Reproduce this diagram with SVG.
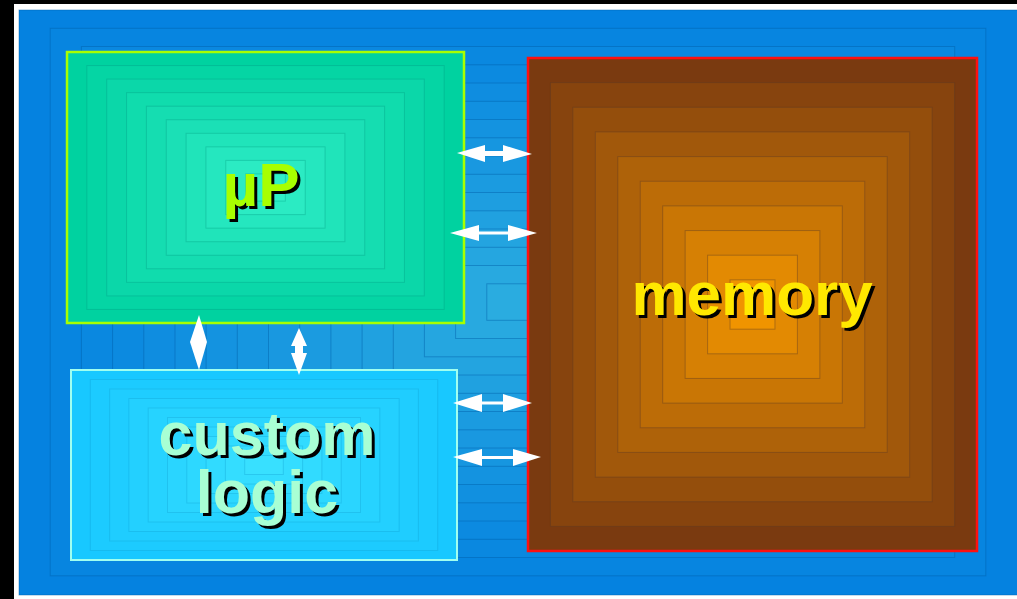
<svg xmlns="http://www.w3.org/2000/svg" width="1017" height="599" viewBox="0 0 1017 599">
<style>
.bg rect{stroke:#0060a8;stroke-opacity:.45;stroke-width:1}
.up rect{stroke:#009a80;stroke-opacity:.35;stroke-width:1}
.cl rect{stroke:#10a0d0;stroke-opacity:.35;stroke-width:1}
.mem rect{stroke:#5a3a28;stroke-opacity:.4;stroke-width:1}
.lbl{font-family:"Liberation Sans",Arial,sans-serif;font-weight:bold;text-anchor:middle}
.sh{fill:#000}
.arr{fill:#fff}
</style>
<rect x="0" y="0" width="1017" height="599" fill="#000"/>
<rect x="14" y="4" width="1010" height="600" fill="#fff"/>
<g class="bg">
<rect x="19" y="10" width="1003" height="585" fill="#0582e0"/>
<rect x="50.2" y="28.3" width="935.6" height="547.5" fill="#0785e0"/>
<rect x="81.4" y="46.5" width="873.3" height="511" fill="#0a88e0"/>
<rect x="112.6" y="64.8" width="810.9" height="474.5" fill="#0c8ae0"/>
<rect x="143.8" y="83" width="748.5" height="438" fill="#0f8de0"/>
<rect x="175" y="101.3" width="686.1" height="401.5" fill="#1190e0"/>
<rect x="206.1" y="119.5" width="623.8" height="365" fill="#1493e0"/>
<rect x="237.3" y="137.8" width="561.4" height="328.5" fill="#1696e0"/>
<rect x="268.5" y="156" width="499" height="292" fill="#1998e0"/>
<rect x="299.7" y="174.3" width="436.6" height="255.5" fill="#1b9be0"/>
<rect x="330.9" y="192.5" width="374.3" height="219" fill="#1e9ee0"/>
<rect x="362.1" y="210.8" width="311.9" height="182.5" fill="#20a1e0"/>
<rect x="393.3" y="229" width="249.5" height="146" fill="#23a4e0"/>
<rect x="424.4" y="247.3" width="187.1" height="109.5" fill="#25a6e0"/>
<rect x="455.6" y="265.5" width="124.8" height="73" fill="#28a9e0"/>
<rect x="486.8" y="283.8" width="62.4" height="36.5" fill="#2aace0"/>
</g>
<g id="up">
<g class="up">
<rect x="67" y="52" width="397" height="271" fill="#00d2a0"/>
<rect x="86.85" y="65.55" width="357.3" height="243.9" fill="#05d5a4"/>
<rect x="106.7" y="79.1" width="317.6" height="216.8" fill="#0bd7a9"/>
<rect x="126.55" y="92.65" width="277.9" height="189.7" fill="#10dcad"/>
<rect x="146.4" y="106.2" width="238.2" height="162.6" fill="#15ddb1"/>
<rect x="166.25" y="119.75" width="198.5" height="135.5" fill="#1be0b6"/>
<rect x="186.1" y="133.3" width="158.8" height="108.4" fill="#20e4ba"/>
<rect x="205.95" y="146.85" width="119.1" height="81.3" fill="#25e7bf"/>
<rect x="225.8" y="160.4" width="79.4" height="54.2" fill="#2bebc3"/>
<rect x="245.65" y="173.95" width="39.7" height="27.1" fill="#30f0c8"/>
</g>
<rect x="67" y="52" width="397" height="271" fill="none" stroke="#a8ff00" stroke-width="2.5"/>
<text class="lbl sh" x="264" y="209" font-size="62">µP</text>
<text class="lbl" x="261" y="206" font-size="62" fill="#a8ff00">µP</text>
</g>
<g id="custom-logic">
<g class="cl">
<rect x="71" y="370" width="386" height="190" fill="#18c8ff"/>
<rect x="90.3" y="379.5" width="347.4" height="171" fill="#1ccbff"/>
<rect x="109.6" y="389" width="308.8" height="152" fill="#1fcdff"/>
<rect x="128.9" y="398.5" width="270.2" height="133" fill="#23d0ff"/>
<rect x="148.2" y="408" width="231.6" height="114" fill="#26d3ff"/>
<rect x="167.5" y="417.5" width="193" height="95" fill="#2ad5ff"/>
<rect x="186.8" y="427" width="154.4" height="76" fill="#2dd8ff"/>
<rect x="206.1" y="436.5" width="115.8" height="57" fill="#31dbff"/>
<rect x="225.4" y="446" width="77.2" height="38" fill="#34ddff"/>
<rect x="244.7" y="455.5" width="38.6" height="19" fill="#38e0ff"/>
</g>
<rect x="71" y="370" width="386" height="190" fill="none" stroke="#a0fff0" stroke-width="2"/>
<text class="lbl sh" x="270" y="458" font-size="61">custom</text>
<text class="lbl" x="267" y="455" font-size="61" fill="#a8ffd4">custom</text>
<text class="lbl sh" x="270" y="516" font-size="61">logic</text>
<text class="lbl" x="267" y="513" font-size="61" fill="#a8ffd4">logic</text>
</g>
<g id="memory">
<g class="mem">
<rect x="528" y="58" width="449" height="493" fill="#7a3a10"/>
<rect x="550.45" y="82.65" width="404.1" height="443.7" fill="#87440e"/>
<rect x="572.9" y="107.3" width="359.2" height="394.4" fill="#944e0c"/>
<rect x="595.35" y="131.95" width="314.3" height="345.1" fill="#a1580b"/>
<rect x="617.8" y="156.6" width="269.4" height="295.8" fill="#ae6209"/>
<rect x="640.25" y="181.25" width="224.5" height="246.5" fill="#bc6c07"/>
<rect x="662.7" y="205.9" width="179.6" height="197.2" fill="#c97605"/>
<rect x="685.15" y="230.55" width="134.7" height="147.9" fill="#d68004"/>
<rect x="707.6" y="255.2" width="89.8" height="98.6" fill="#e38a02"/>
<rect x="730.05" y="279.85" width="44.9" height="49.3" fill="#f09400"/>
</g>
<rect x="528" y="58" width="449" height="493" fill="none" stroke="#ff1010" stroke-width="2.5"/>
<text class="lbl sh" x="755" y="318" font-size="62">memory</text>
<text class="lbl" x="752" y="315" font-size="62" fill="#ffe800">memory</text>
</g>
<g id="connectors" class="arr">
<path d="M457,153 L485,145 L485,151 L503,151 L503,145 L532,154 L503,162 L503,156 L485,156 L485,162 Z"/>
<path d="M450,233 L479,225 L479,231.5 L508,231.5 L508,225 L537,233 L508,241 L508,234.5 L479,234.5 L479,241 Z"/>
<path d="M453,403 L482,394 L482,401.5 L503,401.5 L503,394 L532,403 L503,412 L503,404.5 L482,404.5 L482,412 Z"/>
<path d="M453,457 L482,449 L482,456 L513,456 L513,449 L541,457 L513,466 L513,459 L482,459 L482,466 Z"/>
<path d="M199,315 L207,342 L199,370 L190,342 Z"/>
<path d="M299,328 L307,346 L303,346 L303,353 L307,353 L299,375 L291,353 L295,353 L295,346 L291,346 Z"/>
</g>
</svg>
